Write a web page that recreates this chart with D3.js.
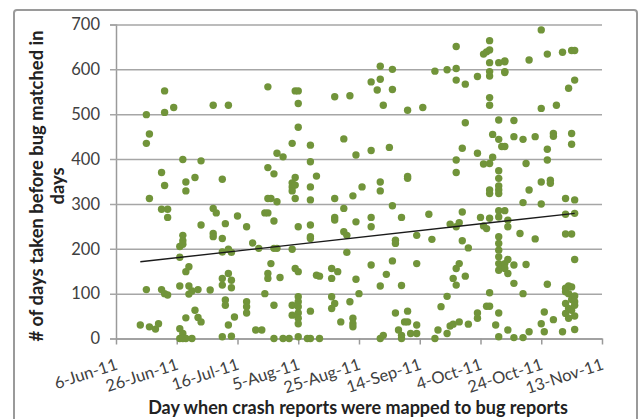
<!DOCTYPE html>
<html lang="en">
    <head>
        <meta charset="utf-8">
        <title>Crash reports mapped to bug reports</title>
        <script type="text/javascript" src="https://cdn.jsdelivr.net/npm/d3@7"></script>
        <style type="text/css">
            body { margin: 0; background: #fff; }
            text { font-family: Lato, "Open Sans", sans-serif; }
        </style>
    </head>
    <body>
        <script type="text/javascript">

            // each row: [day of month, [days taken, ...]]
            var junData = [
                [14, [30]], [16, [499, 435, 109]], [17, [456, 312, 26]], [19, [21]], [20, [33]],
                [21, [370, 288, 109]], [22, [552, 504, 341, 100]], [23, [288, 270, 97]], [25, [515]],
                [27, [205, 181, 117, 22, 0]], [28, [399, 230, 218, 210, 11, 0]],
                [29, [349, 329, 149, 46, 0]], [30, [160, 117, 99]]
            ];
            var julData = [
                [1, [106, 0]], [2, [359, 63]], [3, [109, 47]], [4, [396, 253, 37]], [7, [108]],
                [8, [520, 290, 234, 227]], [9, [280]], [11, [355, 223, 193, 134, 119, 4]],
                [12, [256, 86, 74]], [13, [520, 199, 145, 30]], [14, [192, 130, 113, 5]], [15, [48]],
                [16, [273]], [19, [249, 82, 71, 57]], [21, [213]], [22, [19]], [23, [201]], [24, [19]],
                [25, [280, 100]], [26, [561, 381, 312, 280, 145, 134]], [27, [312, 167]],
                [28, [367, 262, 201, 74, 0]], [29, [413, 305, 201]], [30, [136]], [31, [405, 0]]
            ];
            var augData = [
                [2, [0]], [3, [435, 347, 338, 329, 199, 74, 52]], [4, [552, 359, 342, 312, 156]],
                [5, [552, 524, 471, 249, 149, 93, 82, 71, 57, 45, 33, 4]], [8, [0]],
                [9, [431, 394, 338, 309, 253, 227, 223, 61, 0]], [11, [362, 141]], [12, [139, 0]],
                [16, [156, 134, 93, 67]], [17, [539, 312, 270, 264, 78]], [18, [149]], [19, [37]],
                [20, [445, 290, 238]], [21, [230, 192]], [22, [541, 82]], [23, [318, 45, 33, 26]],
                [24, [409, 260, 132]], [25, [100]], [26, [338]], [29, [572, 419, 270, 249, 164]],
                [31, [554]]
            ];
            var sepData = [
                [1, [607, 578, 349, 329, 117, 0]], [2, [520, 7]], [3, [143]], [4, [426]],
                [5, [600, 555, 296, 173]], [6, [219, 212, 57]], [7, [19]], [8, [270, 118, 7, 0]],
                [9, [37]], [10, [509, 361, 357, 61, 37]], [11, [11]], [13, [230, 167, 30, 11]],
                [15, [515]], [17, [277]], [18, [221]], [19, [596, 0]], [20, [19]], [21, [71]],
                [23, [599, 94, 11]], [24, [255, 28]], [25, [134, 32]],
                [26, [651, 602, 576, 398, 370, 249, 156, 119]], [27, [258, 167, 37]],
                [28, [424, 282, 218]], [29, [567, 481, 139]], [30, [202, 32]]
            ];
            var octData = [
                [3, [584, 413, 57, 45]], [4, [270]], [5, [634, 389, 251]], [6, [639, 245, 72]],
                [7, [664, 643, 615, 595, 585, 537, 520, 390, 331, 323, 268, 102, 72]],
                [8, [455, 404]], [9, [30]],
                [10, [615, 487, 444, 374, 357, 340, 331, 323, 285, 271, 227, 212, 197, 182, 167, 152, 57, 4]],
                [11, [428, 160]], [12, [619, 617, 595, 593, 428, 285, 167, 156]],
                [13, [264, 249, 176, 145, 19]], [15, [486, 450, 164, 123, 2]], [17, [234]],
                [18, [444, 303, 100, 2]], [19, [390, 165]], [20, [621, 331, 15]], [22, [450, 222]],
                [24, [688, 513, 349, 300, 33]], [25, [59, 15]], [26, [634, 422, 398, 121]],
                [27, [353, 346]], [28, [457, 451, 42]], [29, [520]], [31, [638, 15]]
            ];
            var novData = [
                [1, [312, 277, 233, 112, 104, 78, 56]], [2, [558, 117, 100, 67, 45]],
                [3, [642, 457, 433, 233, 115, 87, 63]],
                [4, [642, 576, 309, 279, 176, 95, 82, 74, 50, 20]]
            ];
            var months = [[5, junData], [6, julData], [7, augData], [8, sepData], [9, octData], [10, novData]];

            var tickDates = ["6-Jun-11", "26-Jun-11", "16-Jul-11", "5-Aug-11", "25-Aug-11",
                             "14-Sep-11", "4-Oct-11", "24-Oct-11", "13-Nov-11"];
            var yTicks = [0, 100, 200, 300, 400, 500, 600, 700];
            // linear trendline, value at first and last report date
            var trendEnds = [171, 279];

            //Width and height
            var w = 639;
            var h = 419;
            var plotL = 116, plotR = 602, plotT = 24.5, plotB = 338.5;

            var parse = d3.timeParse("%d-%b-%y");
            var fmt = d3.timeFormat("%-d-%b-%y");

            var points = [];
            months.forEach(function(m) {
                m[1].forEach(function(row) {
                    row[1].forEach(function(v) {
                        points.push({ date: new Date(2011, m[0], row[0]), value: v });
                    });
                });
            });

            var x = d3.scaleTime()
                      .domain([parse(tickDates[0]), parse(tickDates[tickDates.length - 1])])
                      .range([plotL, plotR]);
            var y = d3.scaleLinear()
                      .domain([0, 700])
                      .range([plotB, plotT]);

            var svg = d3.select("body")
                        .append("svg")
                        .attr("width", w)
                        .attr("height", h);

            // outer chart border
            svg.append("rect")
               .attr("x", 14).attr("y", 10)
               .attr("width", 623).attr("height", 430)
               .attr("rx", 3)
               .attr("fill", "none")
               .attr("stroke", "#9a9a9a")
               .attr("stroke-width", 2);

            // y axis with gridlines
            var yAxis = svg.append("g")
               .attr("transform", "translate(" + plotL + ",0)")
               .call(d3.axisLeft(y).tickValues(yTicks).tickSize(6).tickPadding(10));
            yAxis.select(".domain").attr("stroke", "#9a9a9a").attr("stroke-width", 1.5);
            yAxis.selectAll(".tick line")
                 .attr("x1", -6).attr("x2", plotR - plotL)
                 .attr("stroke", "#a6a6a6").attr("stroke-width", 1.5);
            yAxis.selectAll(".tick text")
                 .attr("fill", "#404040")
                 .style("font-size", "16.5px");

            // x axis
            var xAxis = svg.append("g")
               .attr("transform", "translate(0," + plotB + ")")
               .call(d3.axisBottom(x).tickValues(tickDates.map(parse)).tickFormat(fmt).tickSize(6).tickSizeOuter(0));
            xAxis.select(".domain").attr("stroke", "#9a9a9a").attr("stroke-width", 1.5);
            xAxis.selectAll(".tick line").attr("stroke", "#9a9a9a").attr("stroke-width", 1.5);
            xAxis.selectAll(".tick text")
                 .attr("fill", "#404040")
                 .style("font-size", "16.5px")
                 .attr("text-anchor", "end")
                 .attr("y", 0).attr("dy", 0)
                 .attr("transform", "translate(2,30.5) rotate(-18)");

            // points
            svg.selectAll("circle")
               .data(points)
               .enter()
               .append("circle")
               .attr("cx", function(d) { return x(d.date); })
               .attr("cy", function(d) { return y(d.value); })
               .attr("r", 3.7)
               .attr("fill", "#71943a");

            // trendline
            var ext = d3.extent(points, function(d) { return d.date; });
            svg.append("line")
               .attr("x1", x(ext[0])).attr("y1", y(trendEnds[0]))
               .attr("x2", x(ext[1])).attr("y2", y(trendEnds[1]))
               .attr("stroke", "#1a1a1a")
               .attr("stroke-width", 1.4);

            // axis titles
            svg.append("text")
               .text("Day when crash reports were mapped to bug reports")
               .attr("x", 358)
               .attr("y", 414)
               .attr("text-anchor", "middle")
               .attr("font-weight", "bold")
               .attr("fill", "#222")
               .style("font-size", "18px");

            var yTitle = svg.append("text")
               .attr("transform", "translate(43,186) rotate(-90)")
               .attr("text-anchor", "middle")
               .attr("font-weight", "bold")
               .attr("fill", "#222")
               .style("font-size", "18.4px");
            yTitle.append("tspan").attr("x", 0).attr("y", 0)
                  .text("# of days taken before bug matched in");
            yTitle.append("tspan").attr("x", 0).attr("y", 21)
                  .text("days");

        </script>
    </body>
</html>
